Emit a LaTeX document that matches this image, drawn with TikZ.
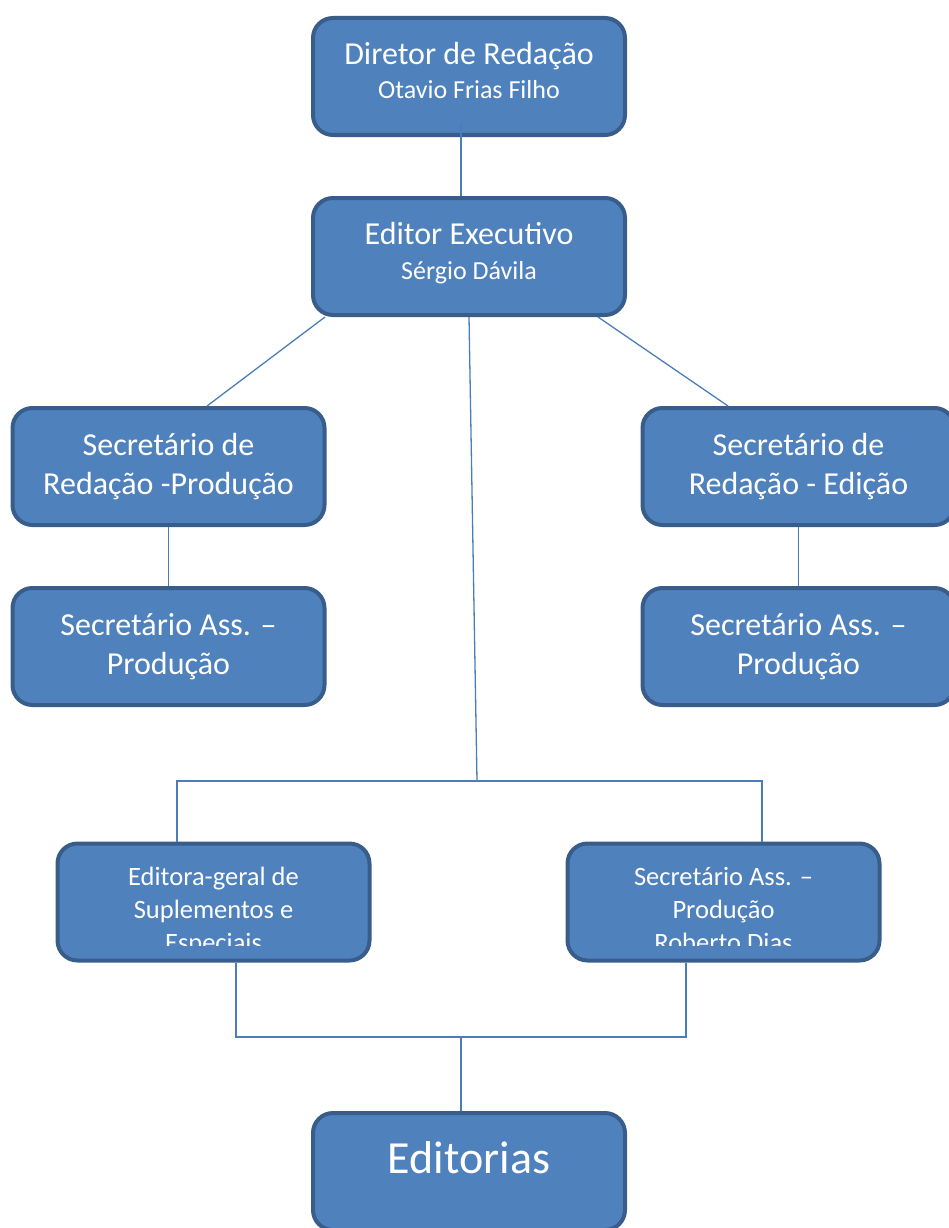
\documentclass[tikz,border=0pt]{standalone}
\usepackage{fontspec}
\setmainfont{Carlito}
\usetikzlibrary{positioning}
\definecolor{postfill}{HTML}{4F81BD}
\definecolor{postline}{HTML}{385D8A}
\definecolor{wire}{HTML}{4A7EBB}
\tikzset{post/.style={draw=postline, fill=postfill, line width=4pt, rounded corners=20pt, minimum width=312pt, minimum height=117pt, inner sep=0pt},
 txt/.style={text=white, inner sep=0pt, anchor=base},
 big/.style={txt, font=\fontsize{32}{32}\selectfont},
 small/.style={txt, font=\fontsize{26}{26}\selectfont},
 wires/.style={draw=wire, line width=1.3pt}}

\begin{document}
\begin{tikzpicture}[x=1pt,y=-1pt]
  \useasboundingbox (0,0) rectangle (949,1228);
  % boxes
  \node[post] (dir) at (469.0,  76.5) {};
  \node[post] (exe) at (469.0, 256.5) {};
  \node[post] (srp) at (168.5, 466.5) {};
  \node[post] (sre) at (798.5, 466.5) {};
  \node[post] (sap) at (168.5, 646.5) {};
  \node[post] (sae) at (798.5, 646.5) {};
  \node[post] (ger) at (213.5, 902.0) {};
  \node[post] (rob) at (723.5, 902.0) {};
  \node[post] (edi) at (469.0,1171.5) {};
  % connectors
  \coordinate (d0) at (461,123);
  \draw[wires] (d0) -- (d0 |- exe.north);
  \draw[wires] ([xshift=-144pt]exe.south) -- ([xshift=38.5pt]srp.north);
  \draw[wires] ([xshift=129pt]exe.south) -- ([xshift=-70.5pt]sre.north);
  \draw[wires] (srp.south) -- (sap.north);
  \draw[wires] (sre.south) -- (sae.north);
  \coordinate (b0) at (477,781);
  \draw[wires] (exe.south) -- (b0);
  \draw[wires] ([xshift=-36.5pt]ger.north) -- ++(0,-60.5) -| ([xshift=38.5pt]rob.north);
  \coordinate (b1) at (461,1037);
  \draw[wires] ([xshift=22.5pt]ger.south) -- ++(0,74.5) -| ([xshift=-37.5pt]rob.south);
  \draw[wires] (b1) -- (b1 |- edi.north);
  % texts
  \node[big]   (dir1) at (469.0,  65) {Diretor de Redação};
  \node[small] (dir2) at (469.0,  99) {Otavio Frias Filho};
  \node[big]   (exe1) at (469.0, 244) {Editor Executivo};
  \node[small] (exe2) at (469.0, 279) {Sérgio Dávila};
  \node[big]   (srp1) at (168.5, 455) {Secretário de};
  \node[big]   (srp2) at (168.5, 494) {Redação -Produção};
  \node[big]   (sre1) at (798.5, 455) {Secretário de};
  \node[big]   (sre2) at (798.5, 494) {Redação - Edição};
  \node[big]   (sap1) at (168.5, 635) {Secretário Ass. –};
  \node[big]   (sap2) at (168.5, 674) {Produção};
  \node[big]   (sae1) at (798.5, 635) {Secretário Ass. –};
  \node[big]   (sae2) at (798.5, 674) {Produção};
  \begin{scope}[small/.append style={font=\fontsize{26.5}{26.5}\selectfont}]
   \node[small] (ger1) at (213.5, 885) {Editora-geral de};
   \node[small] (ger2) at (213.5, 918) {Suplementos e};
   \node[small] (rob1) at (723.5, 885) {Secretário Ass. –};
   \node[small] (rob2) at (723.5, 918) {Produção};
   \clip (0,0) rectangle (949,945);
   \node[small] (ger3) at (213.5, 951) {Especiais};
   \node[small] (rob3) at (723.5, 951) {Roberto Dias};
  \end{scope}
  \node[txt, font=\fontsize{46}{46}\selectfont] (edi1) at (469.0,1173) {Editorias};
\end{tikzpicture}
\end{document}
